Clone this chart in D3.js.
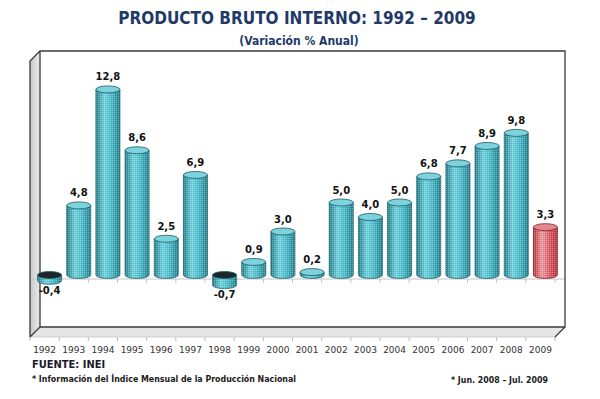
<!DOCTYPE html>
<html>
<head>
<meta charset="utf-8">
<script src="https://cdn.jsdelivr.net/npm/d3@7"></script>
<style>
  body { margin: 0; background: #fff; }
  svg { display: block; }
</style>
</head>
<body>
<div id="chart"></div>
<script>
/* Data */
var years = ["1992","1993","1994","1995","1996","1997","1998","1999","2000",
             "2001","2002","2003","2004","2005","2006","2007","2008","2009"];
var values = [-0.4, 4.8, 12.8, 8.6, 2.5, 6.9, -0.7, 0.9, 3.0,
              0.2, 5.0, 4.0, 5.0, 6.8, 7.7, 8.9, 9.8, 3.3];
var partialYears = ["2009"];

var width = 600;
var height = 399;
var depth = 10;       // 3d offset of back wall
var barShift = 5;     // bars sit a little behind the front plane
var barWidth = 24;
var ry = 3.5;

var fmt = function(v) { return d3.format(".1f")(v).replace(".", ",").replace("\u2212", "-"); };

/* Scales */
var x = d3.scaleBand()
  .domain(years)
  .range([30, 555]);

var y = d3.scaleLinear()
  .domain([-4, 16])
  .range([333, 43]);

var svg = d3.select("#chart").append("svg")
  .attr("width", width)
  .attr("height", height);

var defs = svg.append("defs");

function cylGrad(id, dark, light, mid) {
  var g = defs.append("linearGradient").attr("id", id)
    .attr("x1", "0%").attr("x2", "100%").attr("y1", "0%").attr("y2", "0%");
  g.append("stop").attr("offset", "0%").attr("stop-color", dark);
  g.append("stop").attr("offset", "35%").attr("stop-color", light);
  g.append("stop").attr("offset", "65%").attr("stop-color", mid);
  g.append("stop").attr("offset", "100%").attr("stop-color", dark);
}
cylGrad("gCyan", "#23808d", "#72d4e0", "#4bbccb");
cylGrad("gRed", "#b8343c", "#f09aa0", "#de6068");

var dots = defs.append("pattern").attr("id", "dots")
  .attr("width", 2).attr("height", 2).attr("patternUnits", "userSpaceOnUse");
dots.append("rect").attr("width", 1).attr("height", 1).attr("fill", "#fff").attr("opacity", 0.3);
dots.append("rect").attr("x", 1).attr("y", 1).attr("width", 1).attr("height", 1).attr("fill", "#000").attr("opacity", 0.08);

var wallGrad = defs.append("linearGradient").attr("id", "wall")
  .attr("x1", "0%").attr("x2", "100%");
wallGrad.append("stop").attr("offset", "0%").attr("stop-color", "#c8c8c8");
wallGrad.append("stop").attr("offset", "100%").attr("stop-color", "#ececec");

/* Title */
svg.append("text")
  .attr("x", 297).attr("y", 24)
  .attr("text-anchor", "middle")
  .style("font-family", "'DejaVu Sans Condensed', 'DejaVu Sans'")
  .style("font-stretch", "condensed")
  .style("font-weight", "bold")
  .style("font-size", "17px")
  .style("fill", "#1f3a68")
  .text("PRODUCTO BRUTO INTERNO: 1992 \u2013 2009");

svg.append("text")
  .attr("x", 299).attr("y", 45)
  .attr("text-anchor", "middle")
  .style("font-family", "'DejaVu Sans Condensed', 'DejaVu Sans'")
  .style("font-stretch", "condensed")
  .style("font-weight", "bold")
  .style("font-size", "12px")
  .style("fill", "#1f3a68")
  .text("(Variación % Anual)");

/* 3d frame */
var x0 = x.range()[0], x1 = x.range()[1];
var frameTop = 61, frameBottom = 337;
var frame = svg.append("g").attr("class", "frame");

frame.append("rect")
  .attr("x", x0 + depth).attr("y", frameTop - depth)
  .attr("width", x1 - x0).attr("height", frameBottom - frameTop)
  .attr("fill", "#fff");

frame.append("polygon")
  .attr("points", [[x0, frameTop], [x0 + depth, frameTop - depth], [x0 + depth, frameBottom - depth], [x0, frameBottom]].join(" "))
  .attr("fill", "url(#wall)");

frame.append("polygon")
  .attr("points", [[x0, frameBottom], [x0 + depth, frameBottom - depth], [x1 + depth, frameBottom - depth], [x1, frameBottom]].join(" "))
  .attr("fill", "#e6e6e6");

var zeroY = y(0) + 4;
frame.append("line")
  .attr("x1", x0).attr("x2", x1 + depth)
  .attr("y1", zeroY).attr("y2", zeroY)
  .attr("stroke", "#c4c4c4").attr("stroke-width", 1);

var bounds = years.map(function(d) { return x(d); }).concat([x1]);
frame.selectAll(".ztick")
  .data(bounds.slice(1)).enter()
  .append("line")
  .attr("x1", d => d).attr("x2", d => d)
  .attr("y1", zeroY).attr("y2", zeroY + 4)
  .attr("stroke", "#c4c4c4");

frame.selectAll(".btick")
  .data(bounds).enter()
  .append("line")
  .attr("x1", d => d).attr("x2", d => d)
  .attr("y1", frameBottom).attr("y2", frameBottom + 4)
  .attr("stroke", "#bbb");

frame.append("line")
  .attr("x1", x0).attr("x2", x1)
  .attr("y1", frameBottom).attr("y2", frameBottom)
  .attr("stroke", "#cfcfcf");

frame.append("path")
  .attr("d", "M" + x0 + "," + frameBottom + "L" + x0 + "," + frameTop + "L" + (x0 + depth) + "," + (frameTop - depth) +
    "L" + (x1 + depth) + "," + (frameTop - depth) + "L" + (x1 + depth) + "," + (frameBottom - depth) +
    "L" + (x0 + depth) + "," + (frameBottom - depth) + "L" + (x0 + depth) + "," + (frameTop - depth) +
    "M" + x0 + "," + frameBottom + "L" + (x0 + depth) + "," + (frameBottom - depth) +
    "M" + (x1 + depth) + "," + (frameBottom - depth) + "L" + x1 + "," + frameBottom)
  .attr("fill", "none")
  .attr("stroke", "#3a3a3a")
  .attr("stroke-width", 1.3);

/* Bars (cylinders) */
var bars = svg.append("g").attr("class", "bars")
  .selectAll("g")
  .data(years.map(function(d, i) { return {year: d, value: values[i]}; }))
  .enter().append("g");

function cx(d) { return x(d.year) + x.bandwidth() / 2 + barShift; }

function body(d) {
  var l = cx(d) - barWidth / 2, r = cx(d) + barWidth / 2;
  var t = y(Math.max(d.value, 0)), b = y(Math.min(d.value, 0));
  return "M" + l + "," + t + "L" + l + "," + b +
    "A" + (barWidth / 2) + "," + ry + " 0 0 0 " + r + "," + b +
    "L" + r + "," + t + "Z";
}

bars.append("path")
  .attr("d", body)
  .attr("fill", d => partialYears.indexOf(d.year) >= 0 ? "url(#gRed)" : "url(#gCyan)")
  .attr("stroke", d => partialYears.indexOf(d.year) >= 0 ? "#7a2a30" : "#22646e")
  .attr("stroke-width", 0.8);

bars.append("path")
  .attr("d", body)
  .attr("fill", "url(#dots)");

bars.append("ellipse")
  .attr("cx", cx)
  .attr("cy", d => y(Math.max(d.value, 0)))
  .attr("rx", barWidth / 2)
  .attr("ry", ry)
  .attr("fill", function(d) {
    if (d.value < 0) return "#1c2628";
    return partialYears.indexOf(d.year) >= 0 ? "#e8868e" : "#7cd3de";
  })
  .attr("stroke", d => partialYears.indexOf(d.year) >= 0 ? "#7a2a30" : "#1f5a63")
  .attr("stroke-width", 0.8);

/* Value labels */
bars.append("text")
  .attr("x", cx)
  .attr("y", d => d.value >= 0 ? y(d.value) - 9 : y(d.value) + 13)
  .attr("text-anchor", "middle")
  .style("font-family", "'DejaVu Sans'")
  .style("font-weight", "bold")
  .style("font-size", "10px")
  .style("fill", "#111")
  .text(d => fmt(d.value));

/* Axis labels */
svg.append("g")
  .selectAll("text")
  .data(years).enter()
  .append("text")
  .attr("x", d => x(d) + x.bandwidth() / 2)
  .attr("y", 353)
  .attr("text-anchor", "middle")
  .style("font-family", "'DejaVu Sans'")
  .style("font-size", "9px")
  .style("fill", "#333")
  .text(d => d);

/* Footer */
svg.append("text")
  .attr("x", 32).attr("y", 368)
  .style("font-family", "'DejaVu Sans Condensed', 'DejaVu Sans'")
  .style("font-stretch", "condensed")
  .style("font-weight", "bold")
  .style("font-size", "11px")
  .style("fill", "#1a1a2a")
  .text("FUENTE: INEI");

svg.append("text")
  .attr("x", 32).attr("y", 382)
  .attr("textLength", 264).attr("lengthAdjust", "spacingAndGlyphs")
  .style("font-family", "'DejaVu Sans Condensed', 'DejaVu Sans'")
  .style("font-stretch", "condensed")
  .style("font-weight", "bold")
  .style("font-size", "8.5px")
  .style("fill", "#1a1a1a")
  .text("* Información del Índice Mensual de la Producción Nacional");

svg.append("text")
  .attr("x", 451).attr("y", 383)
  .attr("textLength", 97).attr("lengthAdjust", "spacingAndGlyphs")
  .style("font-family", "'DejaVu Sans Condensed', 'DejaVu Sans'")
  .style("font-stretch", "condensed")
  .style("font-weight", "bold")
  .style("font-size", "8.5px")
  .style("fill", "#1a1a1a")
  .text("* Jun. 2008 \u2013 Jul. 2009");
</script>
</body>
</html>
